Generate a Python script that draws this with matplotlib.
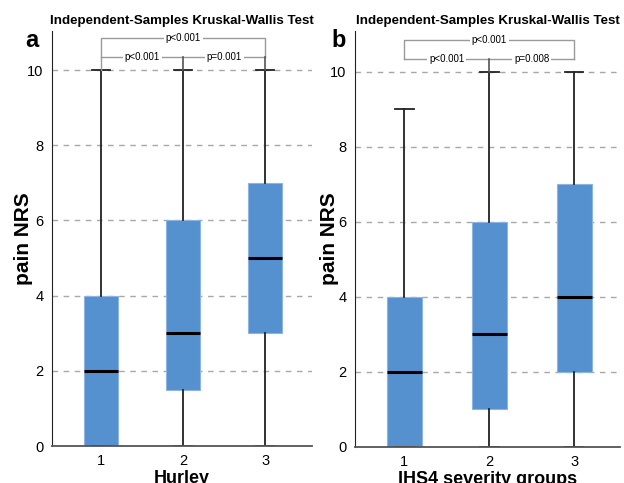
import matplotlib
matplotlib.use("Agg")
import matplotlib.pyplot as plt

plt.rcParams['font.family'] = ['Liberation Sans', 'DejaVu Sans']

groups = [1, 2, 3]

# Panel a: pain NRS by Hurley stage
hurley_q1 = [0, 1.5, 3]
hurley_median = [2, 3, 5]
hurley_q3 = [4, 6, 7]
hurley_wlo = [0, 0, 0]
hurley_whi = [10, 10, 10]
hurley_p = ["p<0.001", "p=0.001", "p<0.001"]

# Panel b: pain NRS by IHS4 severity group
ihs4_q1 = [0, 1, 2]
ihs4_median = [2, 3, 4]
ihs4_q3 = [4, 6, 7]
ihs4_wlo = [0, 0, 0]
ihs4_whi = [9, 10, 10]
ihs4_p = ["p<0.001", "p=0.008", "p<0.001"]

BOX_COLOR = '#5590cf'
BRACKET = '#9a9a9a'


def draw_panel(ax, q1, med, q3, wlo, whi, pvals, xlabel, letter, xlim, ylim,
               legs_to_caps, ylabel_x, letter_x):
    ax.set_xlim(*xlim)
    ax.set_ylim(*ylim)
    for y in [2, 4, 6, 8, 10]:
        ax.axhline(y, color='#a8a8a8', lw=1, ls=(0, (4, 4)), zorder=0)

    stats = []
    for i in range(len(groups)):
        stats.append(dict(med=med[i], q1=q1[i], q3=q3[i],
                          whislo=wlo[i], whishi=whi[i], fliers=[]))
    ax.bxp(stats, positions=groups, widths=0.41, patch_artist=True,
           showfliers=False, capwidths=0.22,
           boxprops=dict(facecolor=BOX_COLOR, edgecolor='#8db4e2', lw=0.8),
           medianprops=dict(color='black', lw=2.2),
           whiskerprops=dict(color='#222222', lw=1.3),
           capprops=dict(color='#222222', lw=1.3),
           manage_ticks=False)

    # pairwise comparison brackets
    y_top, y_mid = 10.85, 10.35
    x1, x2, x3 = groups
    ax.plot([x1, x1, x3, x3], [y_mid, y_top, y_top, y_mid], color=BRACKET,
            lw=1, clip_on=False)
    ax.plot([x1, x3], [y_mid, y_mid], color=BRACKET, lw=1, clip_on=False)
    ax.plot([x2, x2], [whi[1], y_mid], color='#555555', lw=1.2, clip_on=False)
    if legs_to_caps:
        ax.plot([x1, x1], [whi[0], y_mid], color=BRACKET, lw=1)
        ax.plot([x3, x3], [whi[2], y_mid], color='#555555', lw=1.2)
    tb = dict(facecolor='white', edgecolor='none', pad=1.5)
    ax.text((x1 + x2) / 2, y_mid, pvals[0], ha='center', va='center',
            fontsize=7, bbox=tb)
    ax.text((x2 + x3) / 2, y_mid, pvals[1], ha='center', va='center',
            fontsize=7, bbox=tb)
    ax.text(x2, y_top, pvals[2], ha='center', va='center', fontsize=7,
            bbox=tb)

    for s in ['top', 'right']:
        ax.spines[s].set_visible(False)
    ax.spines['left'].set_color('#222222')
    ax.spines['bottom'].set_color('#555555')
    ax.spines['bottom'].set_linewidth(1.3)
    ax.set_yticks([0, 2, 4, 6, 8, 10])
    ax.set_xticks(groups)
    ax.tick_params(axis='both', length=0, labelsize=10.5, pad=6)
    ax.set_ylabel('pain NRS', fontsize=15, fontweight='bold')
    ax.yaxis.set_label_coords(ylabel_x, 0.5)
    ax.set_xlabel(xlabel, fontsize=13, fontweight='bold', labelpad=1)
    ax.set_title('Independent-Samples Kruskal-Wallis Test', fontsize=9.6,
                 fontweight='bold', pad=5)
    ax.text(letter_x, 0.978, letter, transform=ax.transAxes, fontsize=17,
            fontweight='bold', ha='center', va='center')


fig = plt.figure(figsize=(6.24, 4.83), dpi=100)
ax_a = fig.add_axes([52 / 624, 37 / 483, 260 / 624, 415 / 483])
ax_b = fig.add_axes([355 / 624, 36 / 483, 265 / 624, 416 / 483])

draw_panel(ax_a, hurley_q1, hurley_median, hurley_q3, hurley_wlo, hurley_whi,
           hurley_p, 'Hurley', 'a', (0.40, 3.57), (0, 11.04), True,
           -0.074, -0.077)
draw_panel(ax_b, ihs4_q1, ihs4_median, ihs4_q3, ihs4_wlo, ihs4_whi,
           ihs4_p, 'IHS4 severity groups', 'b', (0.42, 3.54), (0, 11.09), False,
           -0.062, -0.06)

fig.savefig('out.png', dpi=100)
